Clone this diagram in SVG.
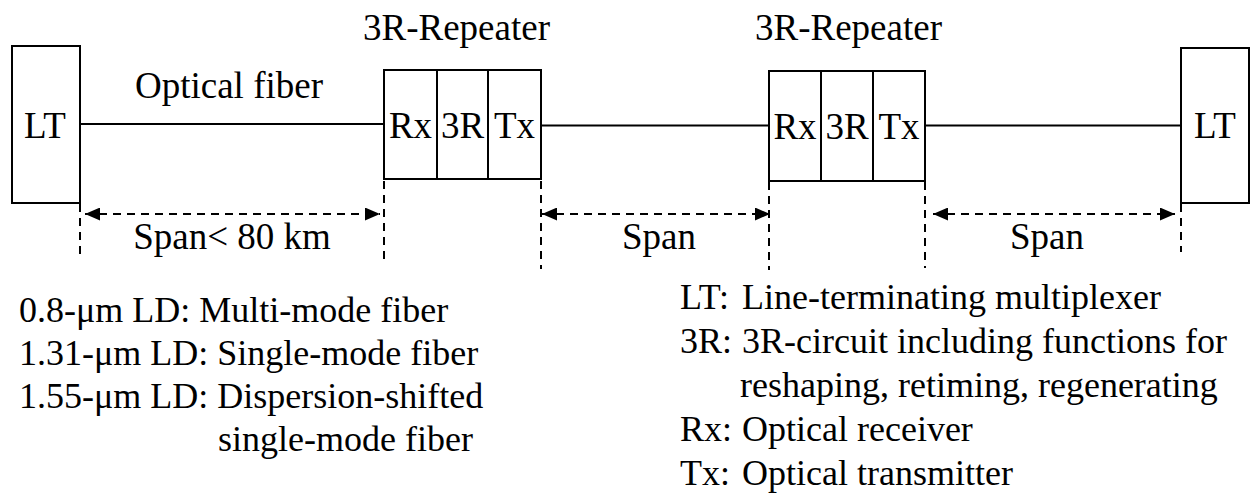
<svg xmlns="http://www.w3.org/2000/svg" width="1250" height="495" viewBox="0 0 1250 495" font-family="'Liberation Serif', 'Times New Roman', serif">
  <style>
    text { font-family: 'Liberation Serif', 'Times New Roman', serif; fill: #000; }
    .lbl { font-size: 37px; }
    .cell { font-size: 37px; text-anchor: middle; }
    .note { font-size: 36px; }
    .box { fill: #fff; stroke: #000; stroke-width: 2; }
    .fiber { stroke: #000; stroke-width: 2; fill: none; }
    .dim { stroke: #000; stroke-width: 2; stroke-dasharray: 8 6; fill: none; }
  </style>
  <defs>
    <marker id="ah" viewBox="0 0 15 13" refX="15" refY="6.5" markerWidth="15" markerHeight="13" markerUnits="userSpaceOnUse" orient="auto-start-reverse">
      <path d="M0,0 L15,6.5 L0,13 Z" fill="#000"/>
    </marker>
  </defs>

  <rect width="1250" height="495" fill="#fff"/>

  <!-- fiber links -->
  <g id="connectors">
    <line class="fiber" x1="80" y1="124" x2="384" y2="124"/>
    <line class="fiber" x1="541" y1="125.5" x2="769" y2="125.5"/>
    <line class="fiber" x1="925" y1="125.5" x2="1181" y2="125.5"/>
  </g>

  <!-- terminals -->
  <g id="lt-left">
    <rect class="box" x="12" y="46" width="68" height="157"/>
    <text class="cell" x="45" y="138">LT</text>
  </g>
  <g id="lt-right">
    <rect class="box" x="1181" y="48" width="68" height="155"/>
    <text class="cell" x="1215" y="138">LT</text>
  </g>

  <!-- repeaters -->
  <g id="repeater-1">
    <text class="lbl" x="363" y="40">3R-Repeater</text>
    <rect class="box" x="384" y="70" width="157" height="109"/>
    <line class="fiber" x1="437" y1="70" x2="437" y2="179"/>
    <line class="fiber" x1="488" y1="70" x2="488" y2="179"/>
    <text class="cell" x="410.5" y="138">Rx</text>
    <text class="cell" x="462.5" y="138">3R</text>
    <text class="cell" x="514.5" y="138">Tx</text>
  </g>
  <g id="repeater-2">
    <text class="lbl" x="755" y="40">3R-Repeater</text>
    <rect class="box" x="769" y="71" width="156" height="110"/>
    <line class="fiber" x1="821" y1="71" x2="821" y2="181"/>
    <line class="fiber" x1="873" y1="71" x2="873" y2="181"/>
    <text class="cell" x="795" y="138.5">Rx</text>
    <text class="cell" x="847" y="138.5">3R</text>
    <text class="cell" x="899" y="138.5">Tx</text>
  </g>

  <text class="lbl" x="135" y="98">Optical fiber</text>

  <!-- span dimensions -->
  <g id="spans">
    <line class="dim" x1="80" y1="204" x2="80" y2="256"/>
    <line class="dim" x1="384" y1="181" x2="384" y2="263"/>
    <line class="dim" x1="541" y1="181" x2="541" y2="269"/>
    <line class="dim" x1="769" y1="182" x2="769" y2="270"/>
    <line class="dim" x1="925" y1="182" x2="925" y2="268"/>
    <line class="dim" x1="1181" y1="204" x2="1181" y2="252"/>

    <line class="dim" x1="85" y1="214" x2="380" y2="214" marker-start="url(#ah)" marker-end="url(#ah)"/>
    <line class="dim" x1="542" y1="214" x2="770" y2="214" marker-start="url(#ah)" marker-end="url(#ah)"/>
    <line class="dim" x1="933" y1="214" x2="1175" y2="214" marker-start="url(#ah)" marker-end="url(#ah)"/>

    <text class="lbl" x="232" y="249" text-anchor="middle">Span&lt; 80 km</text>
    <text class="lbl" x="659" y="249" text-anchor="middle">Span</text>
    <text class="lbl" x="1047" y="249" text-anchor="middle">Span</text>
  </g>

  <!-- fiber types by laser wavelength -->
  <g id="legend-left">
    <text class="note" x="19" y="322">0.8-μm LD: Multi-mode fiber</text>
    <text class="note" x="19" y="365">1.31-μm LD: Single-mode fiber</text>
    <text class="note" x="19" y="408">1.55-μm LD: Dispersion-shifted</text>
    <text class="note" x="218" y="451">single-mode fiber</text>
  </g>

  <!-- abbreviations, second column on a common tab stop -->
  <g id="legend-right">
    <text class="note" y="309"><tspan x="680">LT:</tspan><tspan x="742">Line-terminating multiplexer</tspan></text>
    <text class="note" y="353"><tspan x="680">3R:</tspan><tspan x="742">3R-circuit including functions for</tspan></text>
    <text class="note" x="740" y="397">reshaping, retiming, regenerating</text>
    <text class="note" y="441"><tspan x="680">Rx:</tspan><tspan x="742">Optical receiver</tspan></text>
    <text class="note" y="485"><tspan x="680">Tx:</tspan><tspan x="742">Optical transmitter</tspan></text>
  </g>
</svg>
